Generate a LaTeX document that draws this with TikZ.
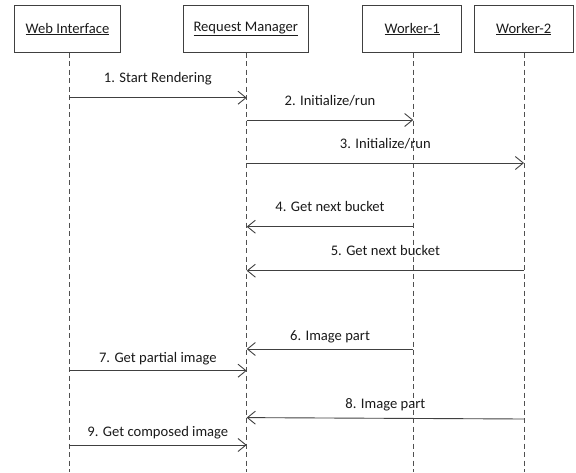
\documentclass[tikz,border=0pt]{standalone}
\usepackage{fontspec}
\setmainfont{Carlito}
\usetikzlibrary{arrows.meta}

\definecolor{edge}{HTML}{404040}
\definecolor{life}{HTML}{505050}
\definecolor{ink}{HTML}{1A1A1A}

\tikzset{
  actor/.style={draw=edge, line width=0.8pt, minimum height=47.7pt,
    inner sep=0pt, text=ink, font=\fontsize{14.6}{16}\selectfont},
  lifeline/.style={draw=life, line width=0.8pt, dash pattern=on 5pt off 3.5pt},
  msg/.style={draw=edge, line width=0.9pt,
    -{Straight Barb[length=8pt,width=13pt,line width=0.9pt]}},
  msglabel/.style={text=ink, font=\fontsize{14.6}{16}\selectfont, inner sep=0pt,
    text height=10pt, text depth=3pt, anchor=center, midway}
}

\begin{document}
\begin{tikzpicture}[x=1pt,y=1pt]
  \useasboundingbox (0,0) rectangle (576,-472);

  % participants
  \node[actor, minimum width=106pt] (web) at (67.5,-29) {\underline{Web Interface}};
  \node[actor, minimum width=125pt] (rm)  at (245.8,-29) {\underline{Request Manager}};
  \node[actor, minimum width=99pt]  (w1)  at (412.2,-29) {\underline{Worker-1}};
  \node[actor, minimum width=99.3pt] (w2) at (523.7,-29) {\underline{Worker-2}};

  % lifeline ends
  \coordinate (webEnd) at (69,-472);
  \coordinate (rmEnd)  at (246.7,-472);
  \coordinate (w1End)  at (413.3,-472);
  \coordinate (w2End)  at (524,-472);
  \coordinate (webTop) at (69,-52.7);
  \coordinate (rmTop)  at (246.7,-52.7);
  \coordinate (w1Top)  at (413.3,-52.7);
  \coordinate (w2Top)  at (524,-52.7);

  \draw[lifeline] (webTop) -- (webEnd);
  \draw[lifeline] (rmTop) -- (rmEnd);
  \draw[lifeline] (w1Top) -- (w1End);
  \draw[lifeline] (w2Top) -- (w2End);

  % message rows
  \coordinate (r1) at (0,-97.7);
  \coordinate (r2) at (0,-120);
  \coordinate (r3) at (0,-163);
  \coordinate (r4) at (0,-226.7);
  \coordinate (r5) at (0,-270.7);
  \coordinate (r6) at (0,-349);
  \coordinate (r7) at (0,-370.7);
  \coordinate (r8a) at (0,-417.6);
  \coordinate (r8b) at (0,-419);
  \coordinate (r9) at (0,-445);

  \draw[msg] (webEnd |- r1) -- node[msglabel, yshift=18.5pt] (l1) {1. Start Rendering} (rmEnd |- r1);
  \draw[msg] (rmEnd |- r2) -- node[msglabel, yshift=18pt] (l2) {2. Initialize/run} (w1End |- r2);
  \draw[msg] (rmEnd |- r3) -- node[msglabel, yshift=18pt] (l3) {3. Initialize/run} (w2End |- r3);
  \draw[msg] (w1End |- r4) -- node[msglabel, yshift=19pt] (l4) {4. Get next bucket} (rmEnd |- r4);
  \draw[msg] (w2End |- r5) -- node[msglabel, yshift=18.7pt] (l5) {5. Get next bucket} (rmEnd |- r5);
  \draw[msg] (w1End |- r6) -- node[msglabel, yshift=12pt] (l6) {6. Image part} (rmEnd |- r6);
  \draw[msg] (webEnd |- r7) -- node[msglabel, yshift=12pt] (l7) {7. Get partial image} (rmEnd |- r7);
  \draw[msg] (w2End |- r8b) -- node[msglabel, yshift=13pt] (l8) {8. Image part} (rmEnd |- r8a);
  \draw[msg] (webEnd |- r9) -- node[msglabel, yshift=12.3pt] (l9) {9. Get composed image} (rmEnd |- r9);
\end{tikzpicture}
\end{document}
